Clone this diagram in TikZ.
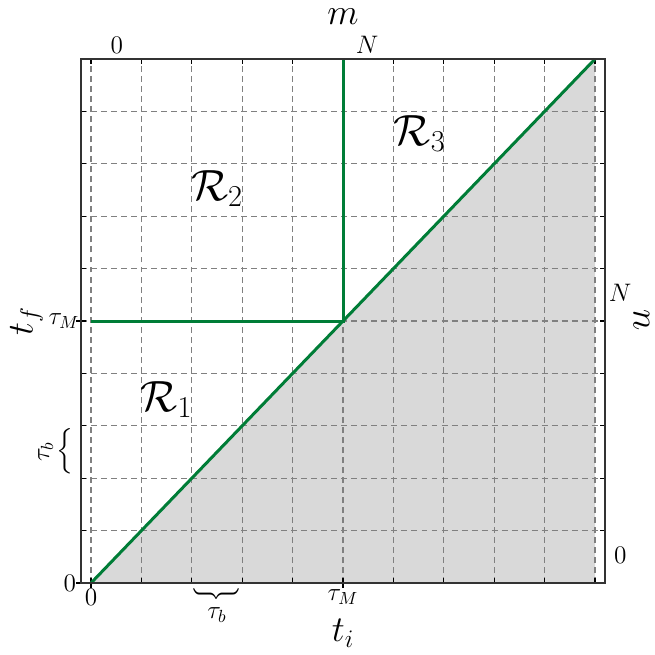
\documentclass[tikz,border=0pt]{standalone}
\usepackage{amsmath}
\definecolor{lineGreen}{RGB}{0,125,55}
\tikzset{
  gridline/.style={gray, line width=0.6pt, dash pattern=on 3.4pt off 2.3pt},
  region/.style={lineGreen, line width=1.7pt},
  ticklabel/.style={font=\fontsize{14}{16}\selectfont, inner sep=0pt},
  axislabel/.style={font=\fontsize{22}{26}\selectfont, inner sep=0pt},
  regionlabel/.style={font=\fontsize{25}{30}\selectfont, inner sep=0pt}
}
\newcommand{\bracesym}{$\left\{\vrule height 10.5pt depth 10.5pt width 0pt\right.$}
\begin{document}
\begin{tikzpicture}[x=1.008cm, y=1.048cm]
  \useasboundingbox (-1.806,-1.355) rectangle (11.190,11.126);
  \coordinate (O) at (0,0);
  \coordinate (C) at (10,0);
  \coordinate (T) at (10,10);
  \coordinate (M) at (5,5);
  \coordinate (L) at (0,5);
  \coordinate (U) at (5,10);
  % shaded part below the diagonal
  \fill[black!15] (O) -- (C) -- (T) -- cycle;
  % grid
  \foreach \i in {0,...,10} \draw[gridline] (\i,0) -- (\i,10);
  \foreach \j in {1,...,9} \draw[gridline] (-0.2,\j) -- (10.2,\j);
  % ticks
  \foreach \i in {0,...,10} {
    \draw[line width=0.6pt] (\i,0) -- (\i,0.1);
    \draw[line width=0.6pt] (\i,10) -- (\i,9.9);
  }
  \foreach \j in {1,...,9} {
    \draw[line width=0.6pt] (-0.2,\j) -- (-0.1,\j);
    \draw[line width=0.6pt] (10.2,\j) -- (10.1,\j);
  }
  \draw[line width=0.6pt] (-0.2,5) -- (-0.3,5) (-0.2,0) -- (-0.3,0);
  \draw[line width=0.6pt] (0,0) -- (0,-0.1) (5,0) -- (5,-0.1);
  % regions
  \draw[region] (O) -- (T);
  \draw[region] (L) -- (M) -- (U);
  % frame
  \draw[black!80, line width=0.8pt] (-0.2,0) rectangle (10.2,10);
  % bottom axis
  \node[ticklabel] (b0) at (0,-0.27) {$0$};
  \node[ticklabel] (bM) at (5,-0.27) {$\tau_M$};
  \node[ticklabel, rotate=90] (bbrace) at (2.5,-0.19) {\bracesym};
  \node[ticklabel] (bb) at (2.5,-0.61) {$\tau_b$};
  \node[axislabel] (ti) at (5,-0.96) {$t_i$};
  % left axis
  \node[ticklabel] (l0) at (-0.42,0) {$0$};
  \node[ticklabel] (lM) at (-0.54,5) {$\tau_M$};
  \node[ticklabel] (lbrace) at (-0.5,2.5) {\bracesym};
  \node[ticklabel, rotate=90] (lb) at (-0.9,2.5) {$\tau_b$};
  \node[axislabel, rotate=90] (tf) at (-1.28,5) {$t_f$};
  % top axis
  \node[ticklabel] (t0) at (0.51,10.27) {$0$};
  \node[ticklabel] (tN) at (5.48,10.27) {$N$};
  \node[axislabel] (m) at (5,10.8) {$m$};
  % right axis
  \node[ticklabel] (rN) at (10.5,5.53) {$N$};
  \node[ticklabel] (r0) at (10.5,0.52) {$0$};
  \node[axislabel, rotate=-90] (n) at (10.92,5.02) {$n$};
  % region labels
  \node[regionlabel] (R1) at (1.5,3.5) {$\mathcal{R}_1$};
  \node[regionlabel] (R2) at (2.5,7.53) {$\mathcal{R}_2$};
  \node[regionlabel] (R3) at (6.52,8.58) {$\mathcal{R}_3$};
\end{tikzpicture}
\end{document}
